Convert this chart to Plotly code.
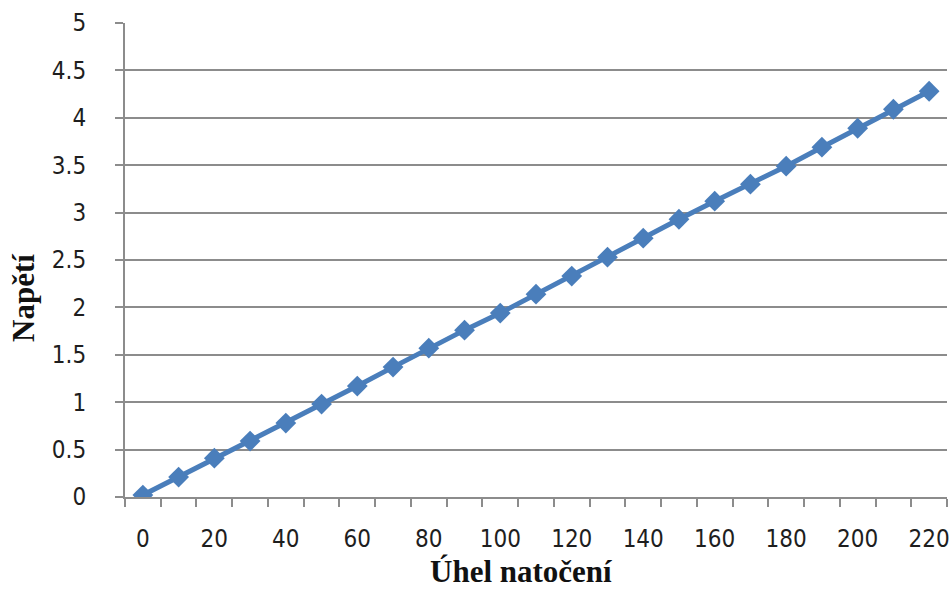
import plotly.graph_objects as go

# Angle of rotation (categories) and measured voltage
uhel = [0, 10, 20, 30, 40, 50, 60, 70, 80, 90, 100, 110, 120,
        130, 140, 150, 160, 170, 180, 190, 200, 210, 220]
napeti = [0.02, 0.21, 0.41, 0.59, 0.78, 0.98, 1.17, 1.37, 1.57, 1.76, 1.94,
          2.14, 2.33, 2.53, 2.73, 2.93, 3.12, 3.30, 3.49, 3.69, 3.89, 4.09, 4.28]
x_labels = [0, 20, 40, 60, 80, 100, 120, 140, 160, 180, 200, 220]
y_ticks = [0, 0.5, 1, 1.5, 2, 2.5, 3, 3.5, 4, 4.5, 5]

blue = "#4a7ebb"
grid = "#8c8c8c"
tick_font = dict(family="Liberation Sans Narrow, DejaVu Sans Condensed, Liberation Sans",
                 size=24, color="#1e1e1e")
title_font = dict(family="Liberation Serif", size=31, color="#111111")

fig = go.Figure()
fig.add_trace(go.Scatter(
    x=uhel, y=napeti, mode="lines+markers",
    line=dict(color=blue, width=5),
    marker=dict(symbol="diamond", size=16, color=blue),
    showlegend=False,
))

# category-style tick marks sit between the points
between = [v - 5 for v in uhel] + [uhel[-1] + 5]

fig.update_layout(
    width=950, height=590,
    margin=dict(l=125, r=3, t=23, b=93),
    paper_bgcolor="white", plot_bgcolor="white",
    xaxis=dict(
        range=[-5, 225],
        tickvals=x_labels, ticktext=[str(v) for v in x_labels],
        ticks="", ticklabelstandoff=19, tickfont=tick_font,
        ticklabeloverflow="allow", automargin=False,
        showgrid=False, zeroline=False,
        showline=True, linecolor=grid, linewidth=2,
        minor=dict(tickvals=between, ticks="outside", ticklen=8,
                   tickcolor=grid, tickwidth=2, showgrid=False),
    ),
    yaxis=dict(
        range=[0, 5], tickvals=y_ticks,
        ticktext=[("%g" % v) for v in y_ticks],
        ticks="outside", ticklen=8, tickcolor=grid, tickwidth=2,
        ticklabelstandoff=24, tickfont=tick_font, automargin=False,
        showgrid=True, gridcolor=grid, gridwidth=2,
        zeroline=False, showline=True, linecolor=grid, linewidth=2,
    ),
    annotations=[
        dict(text="<b>Úhel natočení</b>", xref="paper", yref="paper",
             x=(521 - 125) / 822, y=-(571 - 497) / 474,
             xanchor="center", yanchor="middle", showarrow=False,
             font=title_font),
        dict(text="<b>Napětí</b>", xref="paper", yref="paper",
             x=-(125 - 23) / 822, y=(497 - 298) / 474, textangle=-90,
             xanchor="center", yanchor="middle", showarrow=False,
             font=title_font),
    ],
)

fig.write_html("out.html")
